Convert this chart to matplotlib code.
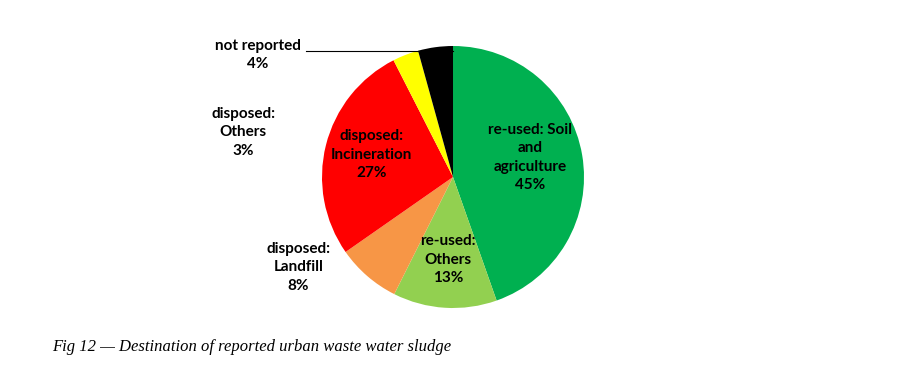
import matplotlib
matplotlib.use('Agg')
import matplotlib.pyplot as plt

# pie data, clockwise from 12 o'clock (labels show rounded shares)
categories = ['re-used: Soil\nand\nagriculture', 're-used:\nOthers', 'disposed:\nLandfill',
              'disposed:\nIncineration', 'disposed:\nOthers', 'not reported']
shares = [44.6, 12.8, 7.9, 27.2, 3.2, 4.3]
colors = ['#00B050', '#92D050', '#F79646', '#FF0000', '#FFFF00', '#000000']

# label anchor positions in pie units (radius = 1)
label_pos = [(0.59, 0.15), (-0.04, -0.63), (-1.18, -0.69),
             (-0.62, 0.17), (-1.60, 0.34), (-1.49, 0.93)]

fig = plt.figure(figsize=(9.2, 3.71), dpi=100)
ax = fig.add_axes([0.35, 0.1698, 0.2848, 0.7062])
ax.pie(shares, colors=colors, startangle=90, counterclock=False,
       wedgeprops=dict(linewidth=0))
ax.set_xlim(-1, 1)
ax.set_ylim(-1, 1)
ax.set_aspect('equal')

for cat, val, (x, y) in zip(categories, shares, label_pos):
    txt = cat + '\n' + '%d%%' % round(val)
    ax.text(x, y, txt, ha='center', va='center', fontsize=11,
            fontweight='bold', family='Lato', linespacing=1.4, clip_on=False)

# leader line for "not reported"
ax.plot([-1.12, 0.0], [0.965, 0.965], color='black', lw=0.8, clip_on=False)

fig.text(52 / 920, 1 - 347 / 371, 'Fig 12 \u2014 Destination of reported urban waste water sludge',
         fontsize=12, style='italic', family='Liberation Serif', va='center')

fig.savefig('out.png', dpi=100)
